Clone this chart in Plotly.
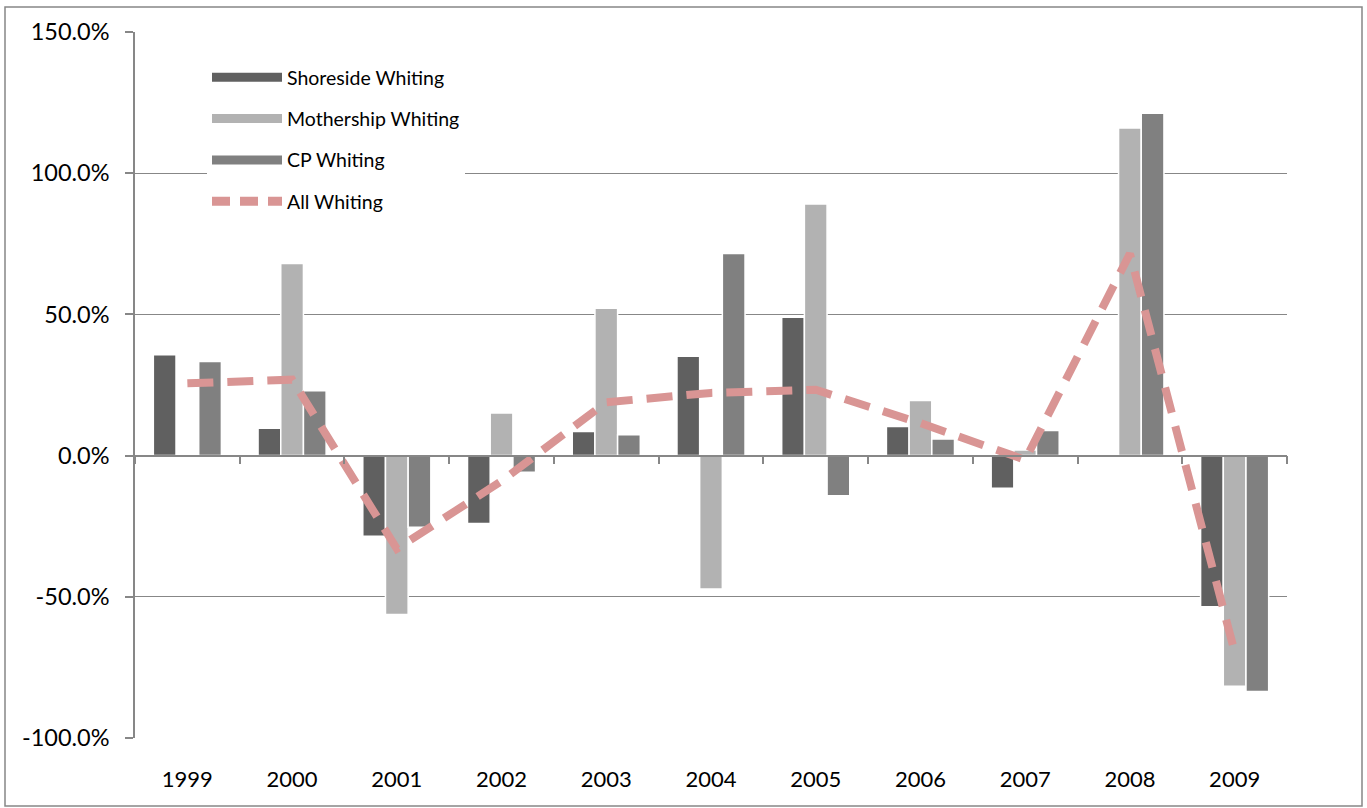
import plotly.graph_objects as go

years = ["1999", "2000", "2001", "2002", "2003", "2004", "2005", "2006", "2007", "2008", "2009"]
shoreside = [35.7, 9.7, -28.6, -24.0, 8.5, 35.2, 49.0, 10.3, -11.6, -0.7, -53.5]
mothership = [0.0, 68.0, -56.3, 15.1, 52.2, -47.2, 89.1, 19.5, 2.0, 116.0, -81.7]
cp = [33.3, 23.0, -25.4, -5.9, 7.4, 71.6, -14.2, 5.9, 8.9, 121.2, -83.5]
all_whiting = [25.6, 26.9, -33.0, -9.0, 18.9, 22.2, 23.3, 11.5, -1.5, 71.5, -69.5]

series_names = ["Shoreside Whiting", "Mothership Whiting", "CP Whiting", "All Whiting"]
y_tickvals = [-100, -50, 0, 50, 100, 150]
y_ticktext = ["-100.0%", "-50.0%", "0.0%", "50.0%", "100.0%", "150.0%"]

bar_colors = ["#606060", "#b2b2b2", "#808080"]
line_color = "#d99594"
axis_gray = "#878787"
FONT = "Lato, 'Open Sans', sans-serif"

fig = go.Figure()

for name, vals, col in zip(series_names[:3], [shoreside, mothership, cp], bar_colors):
    fig.add_trace(go.Bar(
        x=years, y=vals, name=name, showlegend=False,
        marker=dict(color=col, line=dict(color="white", width=1.5)),
    ))

fig.add_trace(go.Scatter(
    x=years, y=all_whiting, name=series_names[3], mode="lines", showlegend=False,
    line=dict(color=line_color, width=8, dash="26px,14px"),
))

# legend-only entries (wide swatches like the original)
for i, (name, col) in enumerate(zip(series_names, bar_colors + [line_color])):
    fig.add_trace(go.Scatter(
        x=[None], y=[None], name=name, mode="lines", legendgroup=f"g{i}",
        line=dict(color=col, width=9, dash=("18px,10px" if i == 3 else "solid")),
        xaxis="x2",
    ))

# invisible trace carrying the bottom category labels
fig.add_trace(go.Scatter(x=years, y=[None] * len(years), xaxis="x2", showlegend=False,
                         hoverinfo="skip", mode="lines"))

ymin, ymax = -100, 150
zero_pos = (0 - ymin) / (ymax - ymin)
x_range = [-0.5, len(years) - 0.5]

# pixel layout of the plot area
pl, pr, pt, pb = 135, 1287, 32, 738
pw, ph = pr - pl, pb - pt

# frame around whole chart
fig.add_shape(type="rect", xref="paper", yref="paper",
              x0=(5 - pl) / pw, x1=(1362 - pl) / pw,
              y0=(pb - 806) / ph, y1=(pb - 7) / ph,
              line=dict(color=axis_gray, width=1.5), fillcolor="rgba(0,0,0,0)", layer="below")
# white legend background box (hides gridline like the original)
fig.add_shape(type="rect", xref="paper", yref="paper",
              x0=(176 - pl) / pw, x1=(495 - pl) / pw,
              y0=(pb - 215) / ph, y1=(pb - 55) / ph,
              line=dict(width=0), fillcolor="white", layer="between")

fig.update_layout(
    width=1367, height=808,
    margin=dict(l=pl, r=1367 - pr, t=pt, b=808 - pb, autoexpand=False),
    paper_bgcolor="white", plot_bgcolor="white",
    font=dict(family=FONT, size=22, color="black"),
    barmode="group", bargap=0.35, bargroupgap=0.0,
    xaxis=dict(
        type="category", anchor="free", position=zero_pos, range=x_range, autorange=False,
        showline=True, linecolor=axis_gray, linewidth=1.5,
        ticks="outside", tickson="boundaries", ticklen=8, tickcolor=axis_gray, tickwidth=1.5,
        showticklabels=False, showgrid=False, zeroline=False,
    ),
    xaxis2=dict(
        type="category", overlaying="x", matches="x", anchor="y", side="bottom",
        range=x_range, autorange=False,
        showline=False, showgrid=False, zeroline=False,
        ticks="outside", ticklen=22, tickcolor="rgba(0,0,0,0)",
        tickfont=dict(family=FONT, size=22, color="black"),
    ),
    yaxis=dict(
        range=[ymin, ymax], tickvals=y_tickvals, ticktext=y_ticktext,
        showline=True, linecolor=axis_gray, linewidth=1.5,
        ticks="outside", ticklen=8, tickcolor=axis_gray, tickwidth=1.5,
        showgrid=True, gridcolor=axis_gray, gridwidth=1.3, zeroline=False,
        tickfont=dict(family=FONT, size=23.5, color="black"),
        ticklabelstandoff=11,
    ),
    legend=dict(
        x=(207 - pl) / pw, y=(pb - 58) / ph, xanchor="left", yanchor="top",
        bgcolor="white", borderwidth=0, font=dict(family=FONT, size=19.5, color="black"),
        traceorder="grouped", tracegroupgap=13, itemwidth=70,
    ),
    showlegend=True,
)

fig.write_html("out.html", config={"displayModeBar": False},
               post_script="document.body.style.margin='0';document.body.style.overflow='hidden';")
